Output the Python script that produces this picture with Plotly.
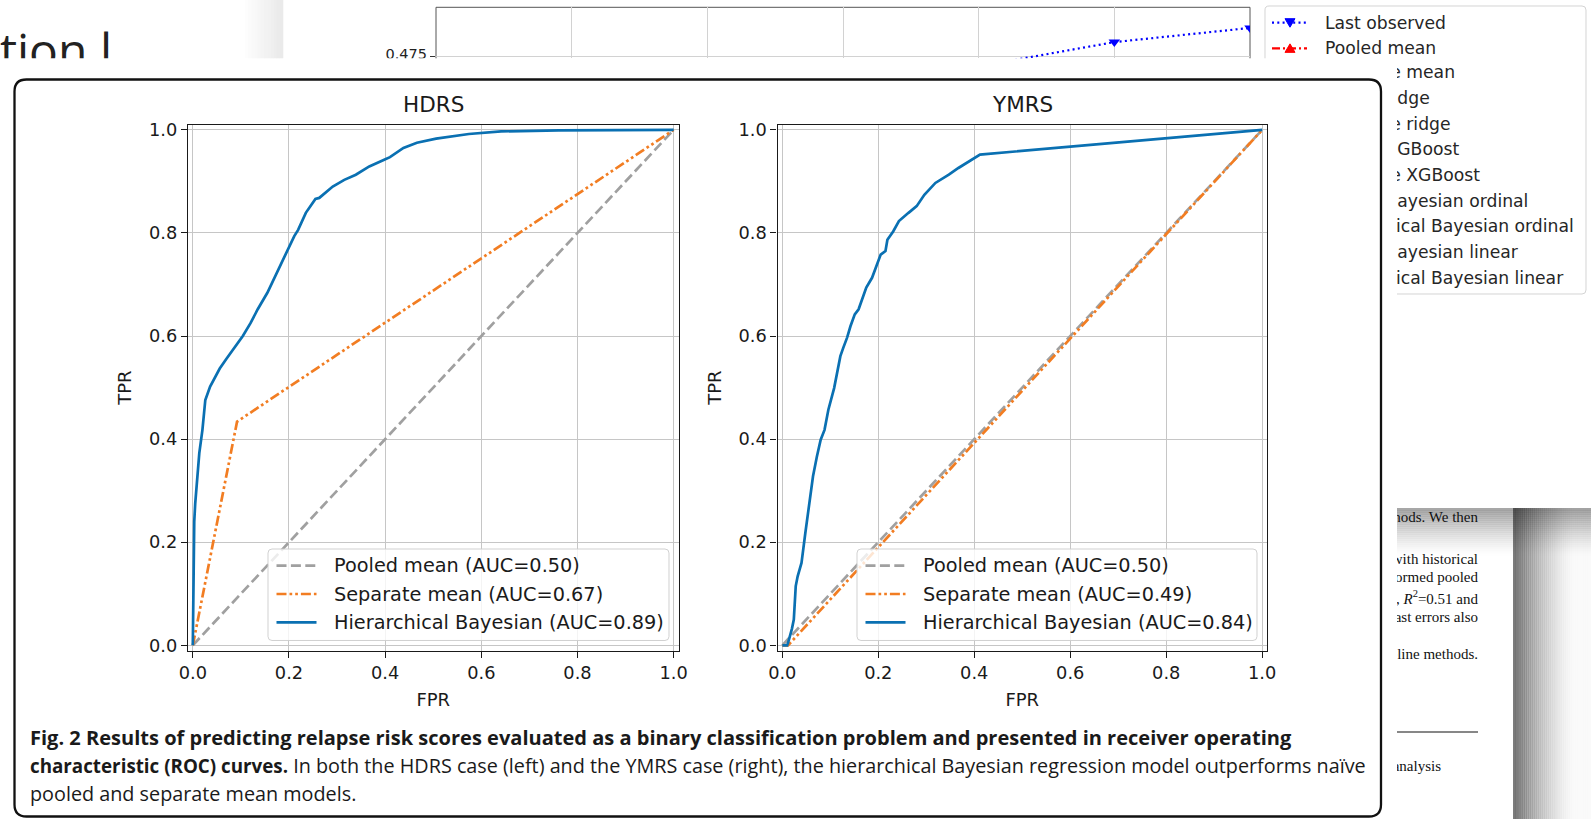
import plotly.graph_objects as go

W, H = 1591, 819

# ---------------- data ----------------
panel_titles = ["HDRS", "YMRS"]
model_names = ["Pooled mean", "Separate mean", "Hierarchical Bayesian"]
hdrs_auc = [0.50, 0.67, 0.89]
ymrs_auc = [0.50, 0.49, 0.84]
axis_ticks = [0.0, 0.2, 0.4, 0.6, 0.8, 1.0]
axis_tick_labels = ["0.0", "0.2", "0.4", "0.6", "0.8", "1.0"]

pooled_fpr = [0.0, 1.0]
pooled_tpr = [0.0, 1.0]

hdrs_sep_fpr = [0.0, 0.092, 1.0]
hdrs_sep_tpr = [0.0, 0.434, 1.0]

hdrs_hb_fpr = [0.000, 0.001, 0.002, 0.003, 0.005, 0.008, 0.0135, 0.020, 0.026, 0.036,
               0.044, 0.056, 0.070, 0.084, 0.104, 0.120, 0.135, 0.155, 0.179, 0.191,
               0.201, 0.211, 0.219, 0.235, 0.255, 0.263, 0.291, 0.315, 0.339, 0.367,
               0.398, 0.410, 0.438, 0.466, 0.506, 0.538, 0.574, 0.641, 0.761, 1.000]
hdrs_hb_tpr = [0.000, 0.100, 0.200, 0.240, 0.275, 0.315, 0.373, 0.418, 0.476, 0.502,
               0.517, 0.537, 0.556, 0.574, 0.600, 0.625, 0.652, 0.684, 0.732, 0.755,
               0.774, 0.794, 0.806, 0.839, 0.866, 0.868, 0.890, 0.903, 0.913, 0.929,
               0.942, 0.947, 0.965, 0.975, 0.983, 0.987, 0.992, 0.997, 0.999, 1.000]

ymrs_sep_fpr = [0.0, 0.012, 1.0]
ymrs_sep_tpr = [0.0, 0.0, 1.0]

ymrs_hb_fpr = [0.000, 0.010, 0.012, 0.016, 0.020, 0.024, 0.026, 0.028, 0.032, 0.040,
               0.048, 0.056, 0.064, 0.072, 0.080, 0.088, 0.096, 0.108, 0.114, 0.121,
               0.127, 0.135, 0.142, 0.151, 0.159, 0.175, 0.187, 0.199, 0.205, 0.215,
               0.219, 0.231, 0.239, 0.243, 0.263, 0.280, 0.296, 0.319, 0.347, 0.367,
               0.412, 1.000]
ymrs_hb_tpr = [0.000, 0.000, 0.005, 0.018, 0.032, 0.050, 0.090, 0.115, 0.134, 0.160,
               0.218, 0.276, 0.328, 0.366, 0.399, 0.418, 0.457, 0.499, 0.525, 0.561,
               0.577, 0.597, 0.619, 0.642, 0.652, 0.694, 0.713, 0.742, 0.758, 0.765,
               0.787, 0.803, 0.818, 0.823, 0.839, 0.852, 0.874, 0.897, 0.913, 0.926,
               0.952, 1.000]

# partially hidden page content behind the figure lightbox
bg_steps = [4, 5, 6]
bg_last_observed = [0.4709, 0.4810, 0.4869]
bg_ytick = [0.475]
bg_legend_labels = ["Last observed", "Pooled mean", "Separate mean", "Pooled ridge",
                    "Separate ridge", "Pooled XGBoost", "Separate XGBoost",
                    "Pooled Bayesian ordinal", "Hierarchical Bayesian ordinal",
                    "Pooled Bayesian linear", "Hierarchical Bayesian linear"]
bg_page_lines = ["methods. We then", "with historical", "formed pooled",
                 "1, <i>R</i><sup>2</sup>=0.51 and", "cast errors also",
                 "eline methods.", "analysis"]
caption_bold_1 = "Fig. 2 Results of predicting relapse risk scores evaluated as a binary classification problem and presented in receiver operating"
caption_bold_2 = "characteristic (ROC) curves."
caption_rest_2 = "In both the HDRS case (left) and the YMRS case (right), the hierarchical Bayesian regression model outperforms naïve"
caption_rest_3 = "pooled and separate mean models."

# ---------------- style ----------------
FONT = "DejaVu Sans"
INK = "#1a1a1a"
GRID = "#c6c6c6"
BLUE = "#0a70b2"
ORANGE = "#f27d22"
GRAY = "#a0a0a0"
LW = 2.7
DASH_GRAY = "10px,4.4px"
DASH_ORANGE = "10px,3px,2.7px,3px,2.7px,3px"
model_styles = [(GRAY, DASH_GRAY), (ORANGE, DASH_ORANGE), (BLUE, "solid")]


def fx(px):
    return px / W


def fy(py):
    return 1 - py / H


def P(x, y):
    return f"{fx(x):.6f},{fy(y):.6f}"


def rounded(x0, y0, x1, y1, r):
    return (f"M{P(x0 + r, y0)} L{P(x1 - r, y0)} Q{P(x1, y0)} {P(x1, y0 + r)} "
            f"L{P(x1, y1 - r)} Q{P(x1, y1)} {P(x1 - r, y1)} L{P(x0 + r, y1)} "
            f"Q{P(x0, y1)} {P(x0, y1 - r)} L{P(x0, y0 + r)} Q{P(x0, y0)} {P(x0 + r, y0)} Z")


fig = go.Figure()

panels = [
    ("x", "y", hdrs_auc, hdrs_sep_fpr, hdrs_sep_tpr, hdrs_hb_fpr, hdrs_hb_tpr),
    ("x2", "y2", ymrs_auc, ymrs_sep_fpr, ymrs_sep_tpr, ymrs_hb_fpr, ymrs_hb_tpr),
]
for xa, ya, auc, sf, st, hf, ht in panels:
    series = [(pooled_fpr, pooled_tpr), (sf, st), (hf, ht)]
    for k, (xs, ys) in enumerate(series):
        col, dash = model_styles[k]
        fig.add_trace(go.Scatter(x=xs, y=ys, mode="lines",
                                 name=f"{model_names[k]} (AUC={auc[k]:.2f})",
                                 line=dict(color=col, width=LW, dash=dash),
                                 xaxis=xa, yaxis=ya, showlegend=False, hoverinfo="skip"))

# background chart fragment (top)
fig.add_trace(go.Scatter(x=bg_steps, y=bg_last_observed, mode="lines+markers",
                         line=dict(color="#0000ff", width=2.2, dash="2px,3.3px"),
                         marker=dict(symbol="triangle-down", size=10, color="#0000ff"),
                         xaxis="x3", yaxis="y3", showlegend=False, cliponaxis=True,
                         hoverinfo="skip"))

# clipped text of the background page (top strip)
fig.add_trace(go.Scatter(x=[112], y=[56], mode="text", text=["ation l"],
                         textposition="middle left",
                         textfont=dict(family="Open Sans", size=48, color="#222222"),
                         xaxis="x4", yaxis="y4", showlegend=False, cliponaxis=True,
                         hoverinfo="skip"))
fig.add_trace(go.Scatter(x=[427], y=[55.5], mode="text", text=[f"{bg_ytick[0]:.3f}"],
                         textposition="middle left",
                         textfont=dict(family=FONT, size=14.5, color="#222222"),
                         xaxis="x4", yaxis="y4", showlegend=False, cliponaxis=True,
                         hoverinfo="skip"))

# background legend rows hidden partly by the lightbox
row_y = [22.7 + 25.66 * i for i in range(len(bg_legend_labels))]
fig.add_trace(go.Scatter(x=[1323] * (len(bg_legend_labels) - 2), y=row_y[2:],
                         mode="text", text=bg_legend_labels[2:],
                         textposition="middle right",
                         textfont=dict(family=FONT, size=17.2, color="#262626"),
                         xaxis="x5", yaxis="y5", showlegend=False, cliponaxis=True,
                         hoverinfo="skip"))

# background page text
page_y = [518, 560, 578, 600, 618, 655, 767]
page_right = [1478, 1478, 1478, 1478, 1478, 1478, 1441]
fig.add_trace(go.Scatter(x=page_right, y=page_y, mode="text",
                         text=bg_page_lines, textposition="middle left",
                         textfont=dict(family="Liberation Serif", size=15, color="#111111"),
                         xaxis="x6", yaxis="y6", showlegend=False, cliponaxis=True,
                         hoverinfo="skip"))

# ---------------- axes ----------------
def main_xaxis(x0, x1, anchor):
    return dict(domain=[fx(x0), fx(x1)], range=[-0.01, 1.01], anchor=anchor,
                tickvals=axis_ticks, ticktext=axis_tick_labels,
                showgrid=True, gridcolor=GRID, gridwidth=1.2, zeroline=False,
                showline=True, mirror=True, linecolor=INK, linewidth=1.3,
                ticks="outside", ticklen=6, tickwidth=1.2, tickcolor=INK,
                tickfont=dict(family=FONT, size=17.8, color=INK),
                title=dict(text="FPR", font=dict(family=FONT, size=18, color=INK), standoff=11),
                fixedrange=True)


def main_yaxis(anchor):
    return dict(domain=[fy(650.5), fy(124.7)], range=[-0.01, 1.01], anchor=anchor,
                tickvals=axis_ticks, ticktext=axis_tick_labels,
                showgrid=True, gridcolor=GRID, gridwidth=1.2, zeroline=False,
                showline=True, mirror=True, linecolor=INK, linewidth=1.3,
                ticks="outside", ticklen=6, tickwidth=1.2, tickcolor=INK,
                tickfont=dict(family=FONT, size=17.8, color=INK),
                title=dict(text="TPR", font=dict(family=FONT, size=18, color=INK), standoff=12),
                fixedrange=True)


def pix_axes(x0, x1, y0, y1):
    xa = dict(domain=[fx(x0), fx(x1)], range=[x0, x1], visible=False, fixedrange=True)
    ya = dict(domain=[fy(y1), fy(y0)], range=[y1, y0], visible=False, fixedrange=True)
    return xa, ya


bg_top, bg_cut, bg_tick_py = 7.3, 58.3, 56.5
bg_scale = 2400.0
x4, y4 = pix_axes(0, W, 0, bg_cut)
x5, y5 = pix_axes(1397, 1586, bg_cut, 294)
x6, y6 = pix_axes(1397, 1513, 500, H)
x4["anchor"], x5["anchor"], x6["anchor"] = "y4", "y5", "y6"
y4["anchor"], y5["anchor"], y6["anchor"] = "x4", "x5", "x6"

fig.update_layout(
    width=W, height=H, template="none",
    margin=dict(l=0, r=0, t=0, b=0, pad=0),
    paper_bgcolor="white", plot_bgcolor="rgba(0,0,0,0)",
    showlegend=False,
    xaxis=main_xaxis(188.0, 678.5, "y"),
    yaxis=main_yaxis("x"),
    xaxis2=main_xaxis(777.5, 1267.0, "y2"),
    yaxis2=main_yaxis("x2"),
    xaxis3=dict(domain=[fx(436), fx(1250)], range=[0, 6], anchor="y3", dtick=1,
                showgrid=True, gridcolor="#d2d2d2", gridwidth=1, zeroline=False,
                showticklabels=False, ticks="", showline=False, fixedrange=True),
    yaxis3=dict(domain=[fy(bg_cut), fy(bg_top)],
                range=[bg_ytick[0] - (bg_cut - bg_tick_py) / bg_scale,
                       bg_ytick[0] + (bg_tick_py - bg_top) / bg_scale],
                anchor="x3", tickvals=bg_ytick, showgrid=True, gridcolor="#d2d2d2",
                gridwidth=1, zeroline=False, showticklabels=False, ticks="outside",
                ticklen=5, tickcolor="#333333", showline=False, fixedrange=True),
    xaxis4=x4, yaxis4=y4, xaxis5=x5, yaxis5=y5, xaxis6=x6, yaxis6=y6,
)

# ---------------- decorations (shapes) ----------------
shapes = []


def rect(x0, y0, x1, y1, color, layer="below"):
    shapes.append(dict(type="rect", xref="paper", yref="paper", x0=fx(x0), x1=fx(x1),
                       y0=fy(y1), y1=fy(y0), fillcolor=color, line=dict(width=0),
                       layer=layer))


# shadow band in the top strip
n = 12
for i in range(n):
    g = int(255 - (255 - 234) * (i + 1) / n)
    rect(245 + 38 / n * i, 0, 245 + 38 / n * (i + 1) + 0.3, bg_cut, f"rgb({g},{g},{g})")

# shading at the top of the background page (spans the text column and the shadow)
n = 24
for i in range(n):
    t = (i + 0.5) / n
    a = 0.55 * (1 - t) ** 1.4
    rect(1397, 508 + 48 / n * i, W, 508 + 48 / n * (i + 1) + 0.3, f"rgba(90,90,90,{a:.3f})")

# right-side page shadow (smooth horizontal gradient)
n = 40
for i in range(n):
    t = (i + 0.5) / n
    a = 0.50 * max(0.0, 1 - t / 0.8) ** 1.6 + 0.02
    rect(1513 + 78 / n * i, 508, 1513 + 78 / n * (i + 1) + 0.3, H, f"rgba(0,0,0,{a:.3f})")

# card (lightbox) with rounded corners
shapes.append(dict(type="path", xref="paper", yref="paper",
                   path=rounded(14.5, 79.5, 1381.0, 816.5, 12),
                   fillcolor="white", line=dict(color="#111111", width=2.3), layer="below"))

# frame of the background chart fragment
for (a, b, c, d) in ((436, bg_top, 1250, bg_top), (436, bg_top, 436, bg_cut),
                     (1250, bg_top, 1250, bg_cut)):
    shapes.append(dict(type="line", xref="paper", yref="paper", x0=fx(a), y0=fy(b),
                       x1=fx(c), y1=fy(d), line=dict(color="#555555", width=1),
                       layer="below"))

# background legend frame (visible parts)
lx0, ly0, lx1, ly1, lr = 1265, 6, 1586, 294, 4
lpath = (f"M{P(lx0, bg_cut)} L{P(lx0, ly0 + lr)} Q{P(lx0, ly0)} {P(lx0 + lr, ly0)} "
         f"L{P(lx1 - lr, ly0)} Q{P(lx1, ly0)} {P(lx1, ly0 + lr)} L{P(lx1, ly1 - lr)} "
         f"Q{P(lx1, ly1)} {P(lx1 - lr, ly1)} L{P(1397, ly1)}")
shapes.append(dict(type="path", xref="paper", yref="paper", path=lpath,
                   line=dict(color="#d4d4d4", width=1), layer="below"))

# background legend handles for the two visible rows
shapes.append(dict(type="line", xref="paper", yref="paper", x0=fx(1272), x1=fx(1307),
                   y0=fy(row_y[0]), y1=fy(row_y[0]),
                   line=dict(color="#0000ff", width=2.2, dash="2px,3.3px"), layer="below"))
shapes.append(dict(type="path", xref="paper", yref="paper",
                   path=f"M{P(1285, row_y[0] - 4)} L{P(1295, row_y[0] - 4)} L{P(1290, row_y[0] + 4.5)} Z",
                   fillcolor="#0000ff", line=dict(color="#0000ff", width=1), layer="below"))
shapes.append(dict(type="line", xref="paper", yref="paper", x0=fx(1272), x1=fx(1307),
                   y0=fy(row_y[1]), y1=fy(row_y[1]),
                   line=dict(color="#ff0000", width=2.2, dash="8px,3px,2px,3px"), layer="below"))
shapes.append(dict(type="path", xref="paper", yref="paper",
                   path=f"M{P(1285, row_y[1] + 4)} L{P(1295, row_y[1] + 4)} L{P(1290, row_y[1] - 4.5)} Z",
                   fillcolor="#ff0000", line=dict(color="#ff0000", width=1), layer="below"))

# rule in the page text
shapes.append(dict(type="line", xref="paper", yref="paper", x0=fx(1397), x1=fx(1478),
                   y0=fy(732), y1=fy(732), line=dict(color="#111111", width=1.2),
                   layer="below"))

# ---------------- annotations ----------------
ann = []
for title, (a, b) in zip(panel_titles, ((188.0, 678.5), (777.5, 1267.0))):
    ann.append(dict(text=title, x=fx((a + b) / 2), y=fy(104.5), xref="paper", yref="paper",
                    xanchor="center", yanchor="middle", showarrow=False,
                    font=dict(family=FONT, size=21.5, color=INK)))

# in-axes legends (matplotlib style)
leg_rows = [565.7, 594.0, 622.3]
for (bx0, bx1), auc in zip(((268.0, 669.0), (857.0, 1257.0)), (hdrs_auc, ymrs_auc)):
    shapes.append(dict(type="path", xref="paper", yref="paper",
                       path=rounded(bx0, 549.0, bx1, 640.5, 4),
                       fillcolor="rgba(255,255,255,0.8)",
                       line=dict(color="rgba(204,204,204,0.9)", width=1), layer="above"))
    for k, ry in enumerate(leg_rows):
        col, dash = model_styles[k]
        shapes.append(dict(type="line", xref="paper", yref="paper",
                           x0=fx(bx0 + 8.5), x1=fx(bx0 + 48.5), y0=fy(ry), y1=fy(ry),
                           line=dict(color=col, width=LW, dash=dash), layer="above"))
        ann.append(dict(text=f"{model_names[k]} (AUC={auc[k]:.2f})", x=fx(bx0 + 63.5),
                        y=fy(ry), xref="paper", yref="paper", xanchor="left",
                        yanchor="middle", showarrow=False,
                        font=dict(family=FONT, size=19.3, color=INK)))

for i in range(2):
    ann.append(dict(text=bg_legend_labels[i], x=fx(1323), y=fy(row_y[i]), xref="paper",
                    yref="paper", xanchor="left", yanchor="middle", showarrow=False,
                    font=dict(family=FONT, size=17.2, color="#262626")))

caption = [
    (f"<b>{caption_bold_1}</b>", 737.6, 20.05),
    (f"<b><span style='font-size:18.8px'>{caption_bold_2}</span></b> {caption_rest_2}", 765.0, 19.8),
    (caption_rest_3, 793.5, 19.8),
]
for text, y, size in caption:
    ann.append(dict(text=text, x=fx(28.4), y=fy(y), xref="paper", yref="paper",
                    xanchor="left", yanchor="middle", showarrow=False,
                    font=dict(family="Open Sans", size=size, color="#1a1a1a")))

fig.update_layout(shapes=shapes, annotations=ann)

fig.write_html("out.html", config={"displayModeBar": False},
               post_script="document.body.style.margin='0px';")
